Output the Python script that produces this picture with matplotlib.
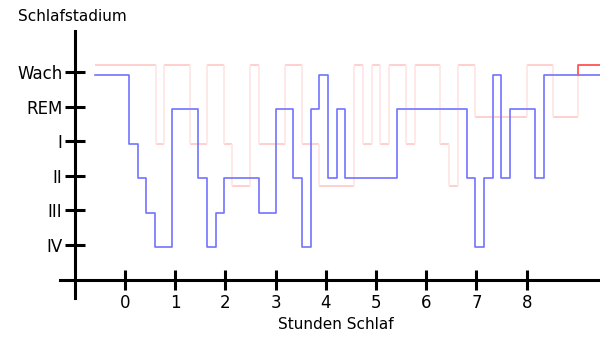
import matplotlib
matplotlib.use('Agg')
import matplotlib.pyplot as plt

# Schlafprofil - Stadien: IV=0, III=1, II=2, I=3, REM=4, Wach=5
stage_names = ['IV', 'III', 'II', 'I', 'REM', 'Wach']
hour_ticks = [0, 1, 2, 3, 4, 5, 6, 7, 8]

# blaue Kurve (Zeitpunkte der Wechsel in Stunden, Stadium ab diesem Zeitpunkt)
times_a = [-0.60, 0.08, 0.25, 0.42, 0.60, 0.94, 1.46, 1.63, 1.81, 1.98,
           2.67, 3.01, 3.35, 3.53, 3.70, 3.87, 4.04, 4.22, 4.39, 5.42,
           6.81, 6.97, 7.15, 7.32, 7.48, 7.66, 8.17, 8.35, 9.46]
stages_a = [5, 3, 2, 1, 0, 4, 2, 0, 1, 2,
            1, 4, 2, 0, 4, 5, 2, 4, 2, 4,
            2, 0, 2, 5, 2, 4, 2, 5, 5]

# rote Kurve (blass)
times_b = [-0.60, 0.61, 0.78, 1.29, 1.63, 1.98, 2.14, 2.49, 2.67, 3.19,
           3.52, 3.87, 4.56, 4.73, 4.91, 5.08, 5.25, 5.59, 5.77, 6.28,
           6.45, 6.63, 6.97, 8.01, 8.52, 9.03, 9.46]
levels_b = [5.2, 2.93, 5.2, 2.93, 5.2, 2.93, 1.7, 5.2, 2.93, 5.2,
            2.93, 1.7, 5.2, 2.93, 5.2, 2.93, 5.2, 2.93, 5.2, 2.93,
            1.7, 5.2, 3.7, 5.2, 3.7, 5.2, 5.2]

fig = plt.figure(figsize=(6.0, 3.49), dpi=100)
ax = fig.add_axes([0, 0, 1, 1])
ax.set_xlim(-2.49, 9.46)
ax.set_ylim(-3.01, 7.09)

# rote Kurve: waagrechte Stücke kräftiger als senkrechte
ax.hlines(levels_b[:-1], times_b[:-1], times_b[1:], color=(1.0, 0.8, 0.8), lw=1.3, zorder=2)
ax.vlines(times_b[1:-1], levels_b[:-2], levels_b[1:-1], color=(1.0, 0.9, 0.9), lw=1.3, zorder=2)

blue_y = [s - 0.07 for s in stages_a]
ax.step(times_a, blue_y, where='post', color=(0.45, 0.45, 1.0), lw=1.2, zorder=3)
# letzter Abschnitt der roten Kurve kräftiger
ax.plot([times_b[-2], times_b[-2], times_b[-1]],
        [blue_y[-1], levels_b[-2], levels_b[-1]],
        color=(1.0, 0.35, 0.35), lw=1.3, zorder=4)

for side in ['top', 'right']:
    ax.spines[side].set_visible(False)
ax.spines['left'].set_position(('data', -1))
ax.spines['bottom'].set_position(('data', -1))
ax.spines['left'].set_bounds(-1.53, 6.18)
ax.spines['bottom'].set_bounds(-1.3, 9.46)
for side in ['left', 'bottom']:
    ax.spines[side].set_linewidth(2.2)
    ax.spines[side].set_zorder(5)

ax.set_yticks(range(len(stage_names)))
ax.set_yticklabels(stage_names)
ax.set_xticks(hour_ticks)
ax.set_xticklabels([str(h) for h in hour_ticks])
ax.tick_params(axis='both', direction='inout', length=15, width=2.2,
               labelsize=12, colors='black')
ax.tick_params(axis='y', pad=1.5)
ax.tick_params(axis='x', pad=3)

ax.text(-1.05, 6.6, 'Schlafstadium', ha='center', va='center', fontsize=11)
ax.text(4.2, -2.3, 'Stunden Schlaf', ha='center', va='center', fontsize=11)

plt.savefig('out.png', dpi=100)
